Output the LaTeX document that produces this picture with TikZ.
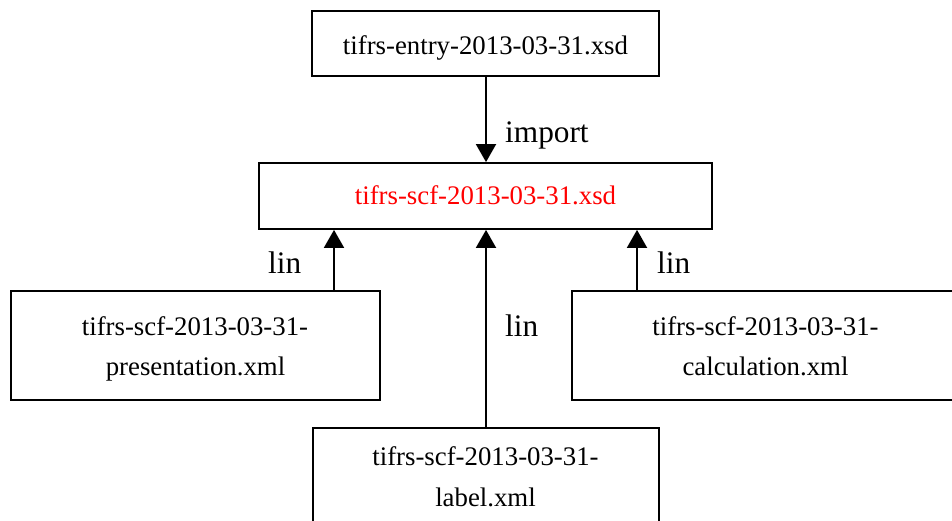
\documentclass[tikz,border=0pt]{standalone}
\usepackage{fontspec}
\setmainfont{Liberation Serif}
\usetikzlibrary{arrows.meta}

\tikzset{
  filebox/.style={draw, line width=1.8pt, rectangle, inner sep=0pt},
  fname/.style={anchor=base, inner sep=0pt, font=\fontsize{26.8}{32}\selectfont},
  elabel/.style={anchor=base west, inner sep=0pt, font=\fontsize{31.3}{36}\selectfont},
  dep/.style={line width=1.9pt, -{Triangle[length=18pt, width=20pt]}},
}

\begin{document}
\begin{tikzpicture}[x=1pt, y=-1pt]
  \useasboundingbox (0,0) rectangle (952,521);

  % file boxes
  \node[filebox, minimum width=347pt, minimum height=65pt] (entry) at (485.5,43.5) {};
  \node[filebox, minimum width=453pt, minimum height=66pt] (scf) at (485.5,196) {};
  \node[filebox, minimum width=369pt, minimum height=109pt] (pres) at (195.5,345.5) {};
  \node[filebox, minimum width=387pt, minimum height=109pt] (calc) at (765.5,345.5) {};
  \node[filebox, minimum width=346pt, minimum height=116pt] (lab) at (486,486) {};

  % file names
  \node[fname] (entryT) at (485.5,55) {tifrs-entry-2013-03-31.xsd};
  \node[fname, text=red] (scfT) at (485.5,205) {tifrs-scf-2013-03-31.xsd};
  \node[fname] (presT1) at (195,335) {tifrs-scf-2013-03-31-};
  \node[fname] (presT2) at (195.5,375) {presentation.xml};
  \node[fname] (calcT1) at (765.5,335) {tifrs-scf-2013-03-31-};
  \node[fname] (calcT2) at (765.5,375) {calculation.xml};
  \node[fname] (labT1) at (485.5,465) {tifrs-scf-2013-03-31-};
  \node[fname] (labT2) at (485.5,506) {label.xml};

  % x positions of the links
  \coordinate (xl) at (334,0);
  \coordinate (xm) at (486,0);
  \coordinate (xr) at (637,0);

  % links
  \draw[dep] (xm |- entry.south) -- (xm |- scf.north);
  \draw[dep] (xl |- pres.north) -- (xl |- scf.south);
  \draw[dep] (xm |- lab.north) -- (xm |- scf.south);
  \draw[dep] (xr |- calc.north) -- (xr |- scf.south);

  % link labels
  \node[elabel] (impL) at (505,143) {import};
  \node[elabel] (linL) at (268,273) {lin};
  \node[elabel] (linM) at (505,336) {lin};
  \node[elabel] (linR) at (657,273) {lin};
\end{tikzpicture}
\end{document}
